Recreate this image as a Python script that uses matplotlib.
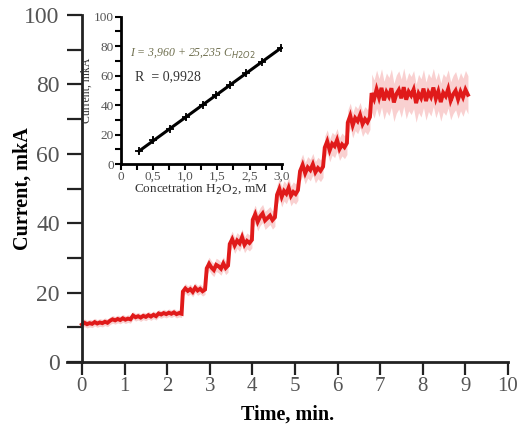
import numpy as np
import matplotlib
matplotlib.use("Agg")
import matplotlib.pyplot as plt
from matplotlib.ticker import MultipleLocator, FixedLocator

plt.rcParams["font.family"] = ["Liberation Serif", "DejaVu Serif"]

# ─── Datos: registro amperométrico (escalones) ───────────────────────────────
inicio_escalon = [0.00, 2.37, 2.93, 3.47, 4.01, 4.58, 5.12, 5.70, 6.24, 6.80]
fin_escalon    = [2.34, 2.89, 3.43, 3.99, 4.53, 5.07, 5.66, 6.22, 6.76, 9.06]

lecturas = [
    [10.8, 11.3, 10.9, 11.2, 11.0, 11.5, 11.1, 11.4, 11.2, 11.6, 11.3, 11.9, 12.3,
     12.0, 12.4, 12.1, 12.6, 12.2, 12.5, 12.3, 13.4, 12.9, 13.2, 12.8, 13.3, 13.0,
     13.5, 13.1, 13.6, 13.2, 14.0, 13.7, 14.1, 13.8, 14.2, 13.9, 14.3, 13.8, 14.1, 13.9],
    [20.3, 21.2, 20.5, 21.0, 20.2, 21.4, 20.6, 21.1, 20.4, 20.9],
    [27.0, 28.3, 27.2, 26.5, 28.0, 27.6, 26.9, 28.4, 27.1, 27.8],
    [34.0, 35.4, 33.6, 35.0, 34.2, 36.0, 33.8, 34.9, 34.3, 35.2],
    [41.0, 42.6, 40.4, 41.9, 42.8, 40.8, 41.5, 42.2, 40.9, 41.7],
    [48.2, 49.9, 47.6, 49.3, 48.5, 50.2, 47.9, 49.0, 48.4, 49.5],
    [55.0, 56.8, 54.4, 56.1, 55.3, 57.0, 54.7, 55.9, 55.1, 56.3],
    [61.8, 63.6, 61.0, 62.9, 62.2, 64.0, 61.4, 62.7, 61.9, 63.1],
    [69.0, 71.0, 68.2, 70.3, 69.4, 71.2, 68.6, 70.0, 69.1, 70.6],
    [77.5, 75.8, 78.6, 76.2, 79.0, 75.4, 77.8, 76.5, 78.9, 74.8, 77.2, 78.4, 76.0,
     79.2, 75.6, 77.9, 76.8, 78.5, 74.6, 77.4, 76.1, 78.8, 75.2, 77.7, 76.4, 79.1,
     75.9, 78.0, 74.9, 77.6, 76.6, 78.7, 75.3, 77.1, 78.2, 75.7, 77.9, 76.3, 78.5, 77.0],
]
ruido = [1.1, 1.4, 1.9, 2.3, 2.6, 2.9, 3.1, 3.3, 3.6, 5.5]

# ─── Datos: curva de calibración (inserto) ───────────────────────────────────
conc = [0.34, 0.61, 0.92, 1.22, 1.53, 1.78, 2.04, 2.33, 2.63, 2.98]
corr = [8.6, 16.5, 23.7, 31.6, 40.2, 47.0, 53.7, 61.6, 69.1, 78.6]
ticks_inserto = [0, 0.6, 1.2, 1.8, 2.4, 3.0]
etiquetas_inserto = ["0", "0,5", "1,0", "1,5", "2,5", "3,0"]

fig = plt.figure(figsize=(5.25, 4.25), dpi=100)
ax = fig.add_axes([0.1276, 0.1482, 0.84, 0.8165])

# Traza: banda de ruido + línea central
t_todo, v_todo = [], []
for t0, t1, vals, r in zip(inicio_escalon, fin_escalon, lecturas, ruido):
    t = np.linspace(t0, t1, len(vals))
    v = np.array(vals)
    ax.fill_between(t, v - r, v + r, color="#f08a8a", alpha=0.4, lw=0)
    t_todo.extend(t)
    v_todo.extend(v)
ax.plot(t_todo, v_todo, color="#e01a1a", lw=2.8, solid_joinstyle="miter")

ax.set_xlim(-0.35, 10)
ax.set_ylim(0, 100)
ax.spines["left"].set_position(("data", 0))
ax.spines["top"].set_visible(False)
ax.spines["right"].set_visible(False)
for s in ("left", "bottom"):
    ax.spines[s].set_linewidth(2.0)
    ax.spines[s].set_color("#222222")

ax.set_xticks(range(0, 11))
ax.yaxis.set_major_locator(MultipleLocator(20))
ax.yaxis.set_minor_locator(MultipleLocator(10))
ax.tick_params(axis="x", direction="out", length=9, width=1.6, color="#222222",
               labelsize=15, labelcolor="#555555", pad=2)
ax.tick_params(axis="y", which="both", direction="out", length=11, width=1.6,
               color="#222222", labelsize=17, labelcolor="#555555", pad=5)
ax.set_xlabel("Time, min.", fontsize=14.5, fontweight="bold", labelpad=6)
ax.set_ylabel("Current, mkA", fontsize=14.5, fontweight="bold", labelpad=4)
ax.yaxis.set_label_coords(-0.077, 0.5)

# ─── Inserto ─────────────────────────────────────────────────────────────────
ins = fig.add_axes([0.2299, 0.6141, 0.3067, 0.3466])
a, b = np.polyfit(conc, corr, 1)
xf = np.array([conc[0], conc[-1]])
ins.plot(xf, a * xf + b, color="black", lw=2.2)
ins.errorbar(conc, corr, yerr=1.5, fmt="+", color="black", ms=6, mew=1.3,
             elinewidth=1.1, capsize=0)
ins.set_xlim(0, 3.0)
ins.set_ylim(0, 100)
for s in ("top", "right"):
    ins.spines[s].set_visible(False)
for s in ("left", "bottom"):
    ins.spines[s].set_linewidth(2.0)
ins.xaxis.set_major_locator(FixedLocator(ticks_inserto))
ins.set_xticklabels(etiquetas_inserto)
ins.xaxis.set_minor_locator(MultipleLocator(0.3))
ins.yaxis.set_major_locator(MultipleLocator(20))
ins.yaxis.set_minor_locator(MultipleLocator(10))
ins.tick_params(which="both", direction="out", length=4, width=1.5,
                labelsize=9.5, labelcolor="#555555", pad=1)
ins.set_xlabel("Concetration H$_2$O$_2$, mM", fontsize=9.5, color="#333333", labelpad=0)
ins.set_ylabel("Current, mkA", fontsize=8.5, color="#333333", labelpad=1)
ins.text(0.17, 75, "I = 3,960 + 25,235 C$_{H2O2}$", fontsize=8.5, style="italic",
         color="#707050", va="center")
ins.text(0.27, 59, "R  = 0,9928", fontsize=10, color="#333333", va="center")

fig.savefig("out.png", dpi=100)
